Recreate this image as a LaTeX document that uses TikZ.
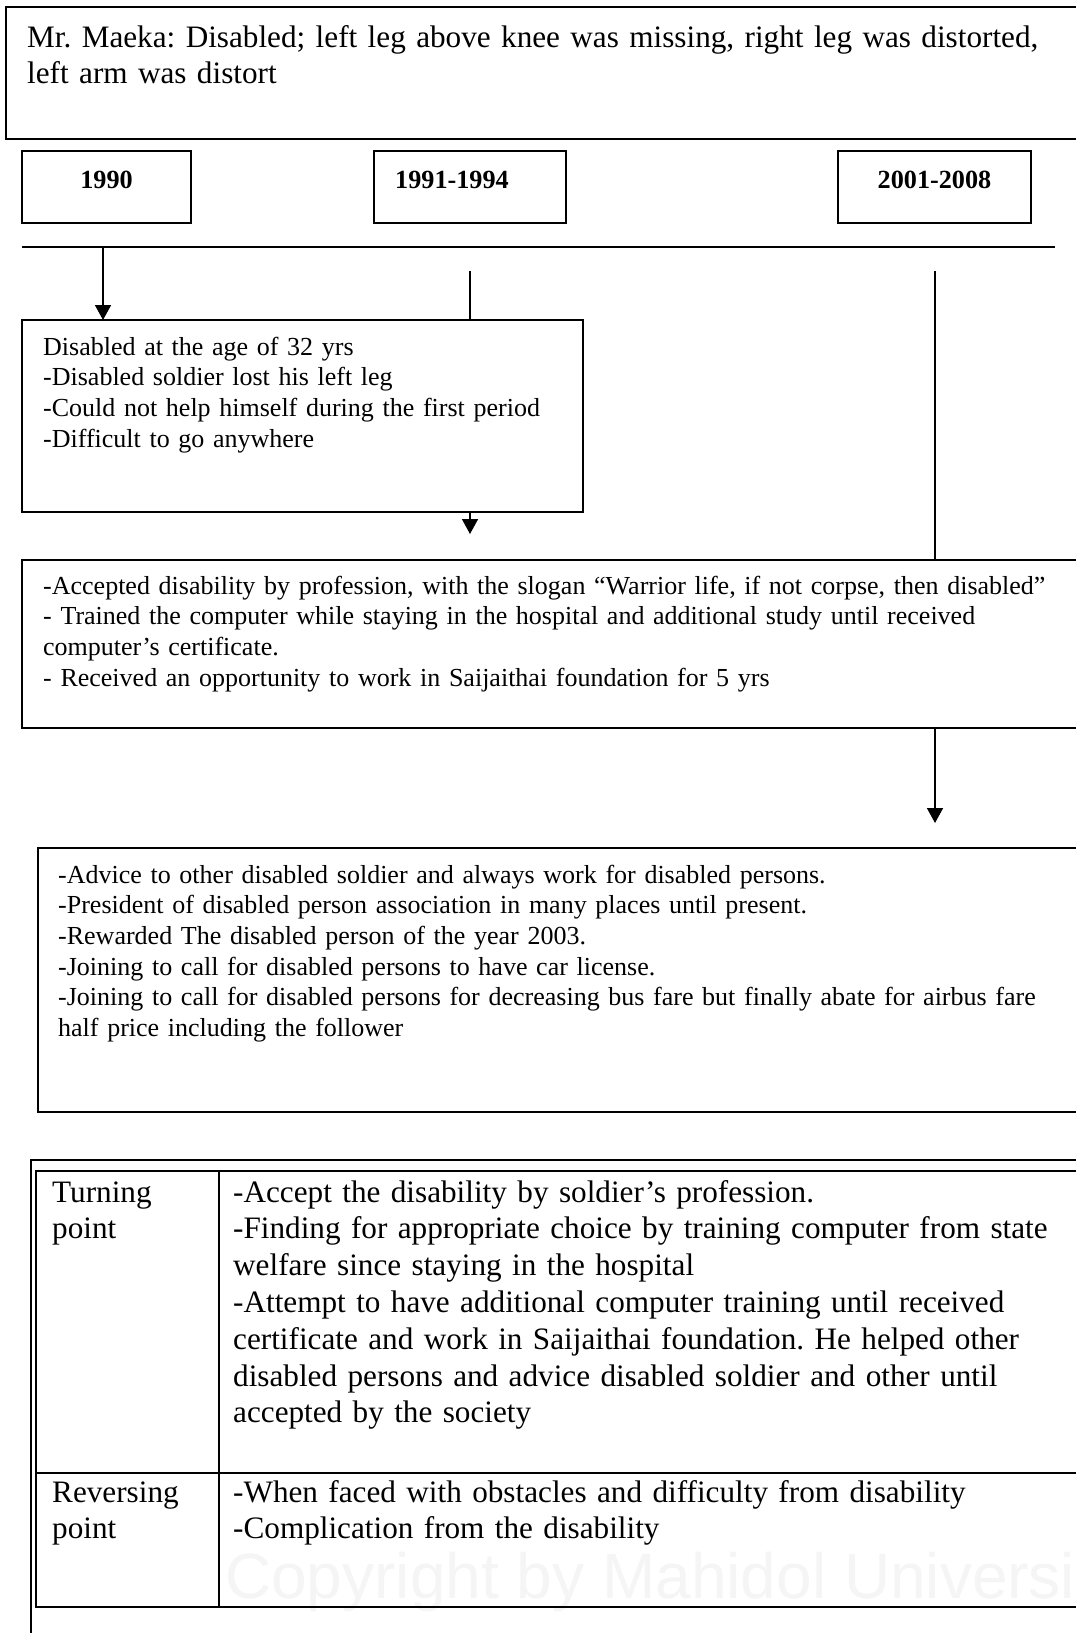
\documentclass[tikz,border=0pt]{standalone}
\usepackage{fontspec}
\setmainfont{Liberation Serif}[Ligatures=NoCommon]
\setsansfont{Liberation Sans}
\usetikzlibrary{arrows.meta}
\frenchspacing
\begin{document}
\begin{tikzpicture}[x=1pt,y=-1pt,
  box/.style={draw=black, line width=2pt, inner sep=0pt, outer sep=0pt, anchor=north west},
  link/.style={draw=black, line width=1.6pt},
  arr/.style={link, -{Triangle[width=16pt,length=15pt]}},
  txtbig/.style={inner sep=0pt, anchor=base west, align=left, text width=1100pt,
    font=\fontsize{31.2}{36.8}\selectfont\frenchspacing},
  txtsm/.style={inner sep=0pt, anchor=base west, align=left, text width=1100pt,
    font=\fontsize{26.0}{30.7}\selectfont\frenchspacing},
  yearlbl/.style={inner sep=0pt, font=\fontsize{26.2}{30}\selectfont\bfseries}]

\useasboundingbox (0,0) rectangle (1076,1633);
\clip (0,0) rectangle (1076,1633);
\fill[white] (0,0) rectangle (1076,1633);

% faint copyright mark behind the table
\node[anchor=base west, inner sep=0pt, text=black!4,
      font=\sffamily\fontsize{64}{64}\selectfont] (wm) at (225,1598)
      {Copyright by Mahidol University};

% heading
\node[box, line width=2.4pt, minimum width=1090pt, minimum height=132pt] (title) at (6,7) {};
\node[txtbig] (titletext) at (27,47)
  {Mr. Maeka: Disabled; left leg above knee was missing, right leg was distorted,\\
   left arm was distort};

% periods
\node[box, minimum width=169pt, minimum height=72pt] (b1990) at (22,151) {};
\node[box, minimum width=192pt, minimum height=72pt] (b1991) at (374,151) {};
\node[box, minimum width=193pt, minimum height=72pt] (b2001) at (838,151) {};
\node[yearlbl, anchor=base] (l1990) at (106.5,188) {1990};
\node[yearlbl, anchor=base west] (l1991) at (395,188) {1991-1994};
\node[yearlbl, anchor=base] (l2001) at (934.5,188) {2001-2008};

% time line
\coordinate (tlL) at (22,247);
\coordinate (tlR) at (1055,247);
\draw[link] (tlL) -- (tlR);

% event boxes
\node[box, minimum width=561pt, minimum height=192pt] (ev1) at (22,320) {};
\node[txtsm] (ev1text) at (43,355)
  {Disabled at the age of 32 yrs\\
   -Disabled soldier lost his left leg\\
   -Could not help himself during the first period\\
   -Difficult to go anywhere};

\node[box, minimum width=1070pt, minimum height=168pt] (ev2) at (22,560) {};
\node[txtsm] (ev2text) at (43,594)
  {-Accepted disability by profession, with the slogan “Warrior life, if not corpse, then disabled”\\
   - Trained the computer while staying in the hospital and additional study until received\\
   computer’s certificate.\\
   - Received an opportunity to work in Saijaithai foundation for 5 yrs};

\node[box, minimum width=1060pt, minimum height=264pt] (ev3) at (38,848) {};
\node[txtsm] (ev3text) at (58,883)
  {-Advice to other disabled soldier and always work for disabled persons.\\
   -President of disabled person association in many places until present.\\
   -Rewarded The disabled person of the year 2003.\\
   -Joining to call for disabled persons to have car license.\\
   -Joining to call for disabled persons for decreasing bus fare but finally abate for airbus fare\\
   half price including the follower};

% connectors
\coordinate (d1) at (103,247);
\draw[arr] (d1) -- (d1 |- ev1.north);
\coordinate (d2) at (470,271);
\draw[link] (d2) -- (d2 |- ev1.north);
\coordinate (d2end) at (470,534);
\draw[arr] (d2 |- ev1.south) -- (d2end);
\coordinate (d3) at (935,271);
\draw[link] (d3) -- (d3 |- ev2.north);
\coordinate (d3end) at (935,823);
\draw[arr] (d3 |- ev2.south) -- (d3end);

% summary table
\node[box, minimum width=1060pt, minimum height=520pt] (frame) at (31,1160) {};
\node[box, minimum width=183pt, minimum height=302pt] (c11) at (36,1171) {};
\node[box, minimum width=870pt, minimum height=302pt] (c12) at (219,1171) {};
\node[box, minimum width=183pt, minimum height=134pt] (c21) at (36,1473) {};
\node[box, minimum width=870pt, minimum height=134pt] (c22) at (219,1473) {};

\node[txtbig] (t11) at (52,1202) {Turning\\ point};
\node[txtbig] (t12) at (233,1202)
  {-Accept the disability by soldier’s profession.\\
   -Finding for appropriate choice by training computer from state\\
   welfare since staying in the hospital\\
   -Attempt to have additional computer training until received\\
   certificate and work in Saijaithai foundation. He helped other\\
   disabled persons and advice disabled soldier and other until\\
   accepted by the society};
\node[txtbig] (t21) at (52,1502) {Reversing\\ point};
\node[txtbig] (t22) at (233,1502)
  {-When faced with obstacles and difficulty from disability\\
   -Complication from the disability};
\end{tikzpicture}
\end{document}
